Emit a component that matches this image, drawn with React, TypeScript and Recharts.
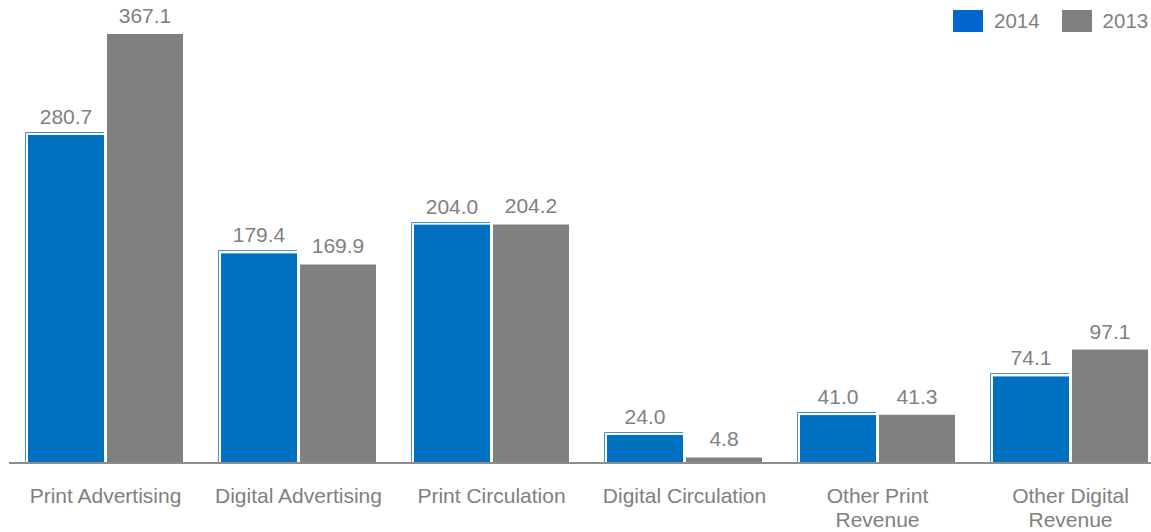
import { BarChart, Bar, XAxis, YAxis, LabelList } from 'recharts'

const categories = [
  'Print Advertising',
  'Digital Advertising',
  'Print Circulation',
  'Digital Circulation',
  'Other Print\nRevenue',
  'Other Digital\nRevenue',
]
const values2014 = [280.7, 179.4, 204.0, 24.0, 41.0, 74.1]
const values2013 = [367.1, 169.9, 204.2, 4.8, 41.3, 97.1]
const seriesNames = ['2014', '2013']

const BLUE = '#0070c0'
const LEGEND_BLUE = '#0066cc'
const GRAY = '#808080'
const TEXT = '#808080'
const FONT = '"Liberation Sans", Arial, sans-serif'
const FS = 21

const data = categories.map((c, i) => ({ name: c, y2014: values2014[i], y2013: values2013[i] }))

// blue bars carry a thin offset outline on the top and left edge
function OutlinedBar(props: any) {
  const { x, y, width, height, fill } = props
  if (!height) return null
  const ox = Math.round(x) - 2.5
  const oy = Math.round(y) - 2.5
  return (
    <g>
      <path d={`M${ox},${y + height} V${oy} H${x + width}`} stroke={fill} strokeOpacity={0.75} fill="none" strokeWidth={1} />
      <rect x={x} y={y} width={width} height={height} fill={fill} />
    </g>
  )
}

function CategoryTick(props: any) {
  const { x, y, payload } = props
  const lines = String(payload.value).split('\n')
  return (
    <text x={x} y={y + 40} textAnchor="middle" fill={TEXT} fontSize={FS} fontFamily={FONT}>
      {lines.map((l, i) => (
        <tspan key={i} x={x} dy={i === 0 ? 0 : 24}>{l}</tspan>
      ))}
    </text>
  )
}

function LegendBox() {
  const colors = [LEGEND_BLUE, GRAY]
  return (
    <div style={{ position: 'absolute', top: 10, left: 953, display: 'flex', alignItems: 'center', fontFamily: FONT, fontSize: 20.5, color: TEXT, lineHeight: '22px' }}>
      {seriesNames.map((n, i) => (
        <div key={n} style={{ display: 'flex', alignItems: 'center', marginRight: i === 0 ? 22 : 0 }}>
          <div style={{ width: 30, height: 22, background: colors[i], marginRight: 11 }} />
          <span>{n}</span>
        </div>
      ))}
    </div>
  )
}

export default function App() {
  return (
    <div style={{ position: 'absolute', top: 0, left: 0, width: 1151, height: 532, overflow: 'hidden' }}>
      <BarChart
        width={1170}
        height={532}
        data={data}
        margin={{ top: 19, right: 3, bottom: 0, left: 9 }}
        barCategoryGap={19}
        barGap={3}
      >
        <XAxis
          dataKey="name"
          height={69}
          tickLine={false}
          tickSize={0}
          tickMargin={0}
          interval={0}
          stroke="#8c8c8c"
          strokeWidth={2}
          tick={<CategoryTick />}
        />
        <YAxis hide domain={[0, 380]} />
        <Bar dataKey="y2014" name="2014" fill={BLUE} shape={<OutlinedBar />} isAnimationActive={false}>
          <LabelList
            dataKey="y2014"
            position="top"
            offset={11}
            formatter={(v: any) => Number(v).toFixed(1)}
            fill={TEXT}
            fontSize={FS}
            fontFamily={FONT}
          />
        </Bar>
        <Bar dataKey="y2013" name="2013" fill={GRAY} isAnimationActive={false}>
          <LabelList
            dataKey="y2013"
            position="top"
            offset={11}
            formatter={(v: any) => Number(v).toFixed(1)}
            fill={TEXT}
            fontSize={FS}
            fontFamily={FONT}
          />
        </Bar>
      </BarChart>
      <LegendBox />
    </div>
  )
}
